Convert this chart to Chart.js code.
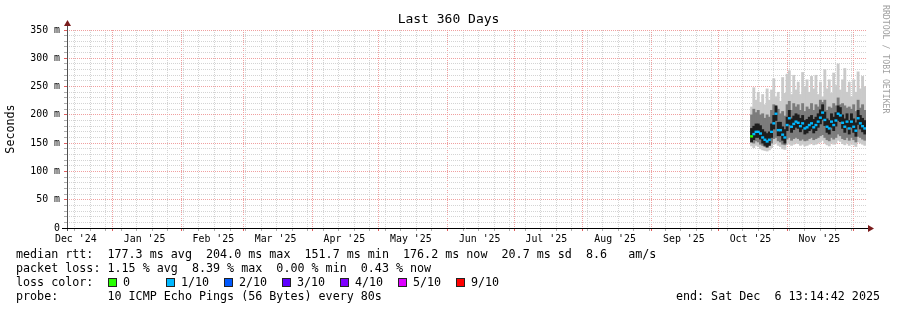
<!DOCTYPE html>
<html>
<head>
<meta charset="utf-8">
<title>Last 360 Days</title>
<script src="https://cdn.jsdelivr.net/npm/chart.js@4.4.1/dist/chart.umd.min.js"></script>
<style>
  body { margin: 0; background: #fff; }
  #wrap { position: relative; width: 897px; height: 310px; overflow: hidden;
          font-family: 'DejaVu Sans Mono', monospace; color: #000; }
  #c { position: absolute; left: 0; top: 0; }
  .txt { position: absolute; white-space: pre; font-size: 11.7px; line-height: 14px; }
  #title { position: absolute; left: 0; width: 897px; top: 11px; text-align: center;
           font-size: 13px; line-height: 16px; white-space: pre; }
  #side { position: absolute; left: 881px; top: 5px; writing-mode: vertical-rl;
          font-size: 8.2px; line-height: 10px; color: #a0a0a0; white-space: pre; }
  .box { position: absolute; width: 9px; height: 9px; box-sizing: border-box; border: 1px solid #222; }
</style>
</head>
<body>
<div id="wrap">
  <canvas id="c" width="897" height="310"></canvas>
  <div id="title">Last 360 Days</div>
  <div id="side">RRDTOOL / TOBI OETIKER</div>
  <div class="txt" style="left:16px;top:247px">median rtt:  177.3 ms avg  204.0 ms max  151.7 ms min  176.2 ms now  20.7 ms sd  8.6   am/s</div>
  <div class="txt" style="left:16px;top:261px">packet loss: 1.15 % avg  8.39 % max  0.00 % min  0.43 % now</div>
  <div class="txt" style="left:16px;top:275px">loss color:</div>
  <div class="txt" style="left:16px;top:289px">probe:       10 ICMP Echo Pings (56 Bytes) every 80s</div>
  <div class="txt" style="right:17px;top:289px">end: Sat Dec  6 13:14:42 2025</div>
</div>
<script>
// --- données ---
const startTime = '2024-12-11T13:14:42Z';   // début de la fenêtre de 360 jours
const spanDays = 360;

const monthLabels = ["Dec '24", "Jan '25", "Feb '25", "Mar '25", "Apr '25", "May '25",
                     "Jun '25", "Jul '25", "Aug '25", "Sep '25", "Oct '25", "Nov '25"];
const labelDates = ['2024-12-15T12:00:00Z', '2025-01-15T12:00:00Z', '2025-02-15T12:00:00Z',
                    '2025-03-15T12:00:00Z', '2025-04-15T12:00:00Z', '2025-05-15T12:00:00Z',
                    '2025-06-15T12:00:00Z', '2025-07-15T12:00:00Z', '2025-08-15T12:00:00Z',
                    '2025-09-15T12:00:00Z', '2025-10-15T12:00:00Z', '2025-11-15T12:00:00Z'];
const monthStarts = ['2025-01-01', '2025-02-01', '2025-03-01', '2025-04-01', '2025-05-01', '2025-06-01',
                     '2025-07-01', '2025-08-01', '2025-09-01', '2025-10-01', '2025-11-01', '2025-12-01'];
const firstSunday = '2024-12-15';

const days = ['2025-10-16', '2025-10-17', '2025-10-18', '2025-10-19', '2025-10-20', '2025-10-21',
              '2025-10-22', '2025-10-23', '2025-10-24', '2025-10-25', '2025-10-26', '2025-10-27',
              '2025-10-28', '2025-10-29', '2025-10-30', '2025-10-31', '2025-11-01', '2025-11-02',
              '2025-11-03', '2025-11-04', '2025-11-05', '2025-11-06', '2025-11-07', '2025-11-08',
              '2025-11-09', '2025-11-10', '2025-11-11', '2025-11-12', '2025-11-13', '2025-11-14',
              '2025-11-15', '2025-11-16', '2025-11-17', '2025-11-18', '2025-11-19', '2025-11-20',
              '2025-11-21', '2025-11-22', '2025-11-23', '2025-11-24', '2025-11-25', '2025-11-26',
              '2025-11-27', '2025-11-28', '2025-11-29', '2025-11-30', '2025-12-01', '2025-12-02',
              '2025-12-03', '2025-12-04', '2025-12-05', '2025-12-06'];

// fumée (ms) : enveloppe extérieure, bande moyenne, noyau sombre
const smokeMax  = [214, 248, 226, 240, 222, 236, 218, 246, 226, 244, 264, 232, 240, 224, 266, 238, 272, 278,
                   236, 270, 244, 258, 236, 275, 250, 262, 240, 268, 246, 270, 236, 258, 232, 280, 246, 262,
                   238, 274, 252, 290, 244, 262, 282, 240, 258, 232, 262, 240, 276, 246, 268, 250];
const smokeMin  = [145, 142, 146, 144, 140, 138, 137, 136, 138, 142, 148, 150, 146, 144, 140, 139, 148, 150,
                   146, 148, 150, 149, 146, 148, 145, 146, 148, 150, 147, 148, 150, 152, 155, 150, 147, 145,
                   150, 148, 150, 155, 153, 149, 147, 150, 146, 150, 147, 144, 152, 150, 148, 146];
const smokeHigh = [200, 210, 204, 208, 200, 202, 194, 200, 196, 208, 218, 214, 210, 202, 206, 198, 218, 224,
                   208, 220, 214, 218, 208, 220, 206, 214, 210, 220, 208, 218, 214, 226, 222, 226, 208, 214,
                   212, 220, 216, 230, 218, 220, 216, 212, 214, 210, 218, 206, 226, 212, 218, 208];
const smokeLow  = [152, 150, 154, 152, 148, 146, 144, 143, 146, 150, 158, 160, 154, 152, 148, 147, 157, 160,
                   155, 158, 160, 158, 155, 157, 154, 155, 158, 160, 156, 158, 160, 163, 165, 160, 156, 154,
                   160, 157, 160, 166, 163, 158, 156, 160, 155, 160, 156, 152, 162, 160, 157, 155];
const coreHigh  = [176, 180, 184, 184, 181, 174, 170, 167, 170, 184, 199, 216, 187, 187, 179, 174, 196, 208,
                   193, 198, 202, 200, 194, 199, 190, 192, 196, 199, 192, 196, 202, 209, 218, 205, 193, 190,
                   202, 196, 204, 216, 213, 200, 193, 202, 190, 202, 193, 186, 208, 199, 194, 190];
const coreLow   = [152, 156, 160, 160, 157, 150, 146, 143, 146, 160, 175, 190, 163, 163, 155, 150, 172, 183,
                   169, 174, 178, 176, 170, 175, 166, 168, 172, 175, 168, 172, 178, 184, 192, 181, 169, 166,
                   178, 172, 180, 190, 188, 176, 169, 178, 166, 178, 169, 162, 183, 175, 170, 166];
const median    = [162, 166, 170, 170, 167, 160, 156, 153, 156, 170, 185, 202, 173, 173, 165, 160, 182, 194,
                   179, 184, 188, 186, 180, 185, 176, 178, 182, 185, 178, 182, 188, 195, 204, 191, 179, 176,
                   188, 182, 190, 202, 199, 186, 179, 188, 176, 188, 179, 172, 194, 185, 180, 176];
// perte par jour, en index de couleur (0 = 0, 1 = 1/10 ...)
const loss      = [0, 1, 1, 1, 1, 1, 1, 1, 1, 1, 1, 1, 1, 1, 1, 1, 1, 1, 1, 1, 1, 1, 1, 1, 1, 1,
                   1, 1, 1, 1, 1, 1, 1, 1, 1, 1, 1, 1, 1, 1, 1, 1, 1, 1, 1, 1, 1, 1, 1, 1, 1, 1];

const lossLabels = ['0', '1/10', '2/10', '3/10', '4/10', '5/10', '9/10'];
const lossColors = ['#26ff00', '#00b8ff', '#0059ff', '#5e00ff', '#7e00ff', '#dd00ff', '#ff0000'];

const yTickValues = [0, 50, 100, 150, 200, 250, 300, 350];

// --- helpers ---
const t0 = Date.parse(startTime);
function dayPos(s) {
    const iso = s.length === 10 ? s + 'T00:00:00Z' : s;
    return (Date.parse(iso) - t0) / 864e5;
}

const RED = '#f0a0a0';
const GREY = '#d4d4d4';

// ticks de l'axe x : semaines (gris), mois (rouge), étiquettes au 15
const tickKind = new Map();
const xTicks = [];
for (let d = dayPos(firstSunday); d <= spanDays; d += 7) {
    xTicks.push({ value: d });
    tickKind.set(d, 'week');
}
monthStarts.forEach(s => {
    const d = dayPos(s);
    xTicks.push({ value: d });
    tickKind.set(d, 'month');
});
const labelOf = new Map();
labelDates.forEach((s, i) => {
    const d = dayPos(s);
    xTicks.push({ value: d });
    tickKind.set(d, 'label');
    labelOf.set(d, monthLabels[i]);
});

// légende des couleurs de perte
const wrap = document.getElementById('wrap');
lossLabels.forEach((lab, i) => {
    const box = document.createElement('div');
    box.className = 'box';
    box.style.left = (108 + i * 58) + 'px';
    box.style.top = '278px';
    box.style.background = lossColors[i];
    wrap.appendChild(box);
    const t = document.createElement('div');
    t.className = 'txt';
    t.style.left = (123 + i * 58) + 'px';
    t.style.top = '275px';
    t.textContent = lab;
    wrap.appendChild(t);
});

function bars(lo, hi) {
    return days.map((d, i) => ({ x: dayPos(d), y: [lo[i], hi[i]] }));
}

// axes avec flèches, façon rrdtool
const axisArrows = {
    id: 'axisArrows',
    afterDraw(chart) {
        const { ctx, chartArea: a } = chart;
        ctx.save();
        ctx.lineWidth = 1;
        ctx.strokeStyle = '#505050';
        ctx.beginPath();
        ctx.moveTo(a.left + 0.5, a.bottom + 3);
        ctx.lineTo(a.left + 0.5, a.top - 5);
        ctx.stroke();
        ctx.strokeStyle = '#000';
        ctx.beginPath();
        ctx.moveTo(a.left - 5, a.bottom + 0.5);
        ctx.lineTo(a.right + 3, a.bottom + 0.5);
        ctx.stroke();
        ctx.fillStyle = '#7a1c1c';
        ctx.beginPath();
        ctx.moveTo(a.left - 3, a.top - 4);
        ctx.lineTo(a.left + 4, a.top - 4);
        ctx.lineTo(a.left + 0.5, a.top - 10);
        ctx.closePath();
        ctx.fill();
        ctx.beginPath();
        ctx.moveTo(a.right + 2, a.bottom - 3);
        ctx.lineTo(a.right + 2, a.bottom + 4);
        ctx.lineTo(a.right + 8, a.bottom + 0.5);
        ctx.closePath();
        ctx.fill();
        ctx.restore();
    }
};

Chart.defaults.font.family = "'DejaVu Sans Mono', monospace";
Chart.defaults.color = '#000';

new Chart(document.getElementById('c'), {
    type: 'bar',
    data: {
        datasets: [
            {
                type: 'line',
                label: 'median',
                data: days.map((d, i) => ({ x: dayPos(d), y: median[i] })),
                showLine: false,
                pointStyle: 'line',
                pointRadius: 1.5,
                pointBorderWidth: 2.4,
                pointBorderColor: loss.map(l => lossColors[l]),
                pointBackgroundColor: loss.map(l => lossColors[l]),
                order: 0
            },
            { label: 'core', data: bars(coreLow, coreHigh), backgroundColor: '#1e1e1e', order: 1 },
            { label: 'mid', data: bars(smokeLow, smokeHigh), backgroundColor: '#7c7c7c', order: 2 },
            { label: 'outer', data: bars(smokeMin, smokeMax), backgroundColor: '#cacaca', order: 3 }
        ]
    },
    options: {
        responsive: false,
        animation: false,
        devicePixelRatio: 1,
        events: [],
        layout: { padding: { left: 0, right: 31, top: 30, bottom: 0 } },
        datasets: {
            bar: { grouped: false, barPercentage: 1, categoryPercentage: 1, borderWidth: 0 }
        },
        plugins: { legend: { display: false }, tooltip: { enabled: false }, title: { display: false } },
        scales: {
            x: {
                type: 'linear',
                min: 0,
                max: spanDays,
                offset: false,
                z: 1,
                afterBuildTicks(s) { s.ticks = xTicks.map(t => ({ value: t.value })); },
                afterFit(s) { s.height = 82; },
                border: { display: false, dash: [1, 1] },
                grid: {
                    offset: false,
                    tickLength: 3,
                    color: c => {
                        const k = tickKind.get(c.tick && c.tick.value);
                        return k === 'month' ? RED : k === 'label' ? 'rgba(0,0,0,0)' : GREY;
                    },
                    tickColor: c => {
                        const k = tickKind.get(c.tick && c.tick.value);
                        return k === 'month' ? '#e06060' : k === 'label' ? 'rgba(0,0,0,0)' : '#b0b0b0';
                    }
                },
                ticks: {
                    autoSkip: false,
                    maxRotation: 0,
                    minRotation: 0,
                    padding: 2,
                    font: { size: 9.9 },
                    callback: v => labelOf.get(v) || ''
                }
            },
            y: {
                min: 0,
                max: 350,
                z: 1,
                afterFit(s) { s.width = 67; },
                border: { display: false, dash: [1, 1] },
                grid: {
                    tickLength: 3,
                    color: c => {
                        const v = c.tick && c.tick.value;
                        if (v === 0) return 'rgba(0,0,0,0)';
                        return yTickValues.includes(v) ? RED : GREY;
                    },
                    tickColor: c => yTickValues.includes(c.tick && c.tick.value) ? '#e06060' : '#b0b0b0'
                },
                ticks: {
                    stepSize: 10,
                    autoSkip: false,
                    padding: 4,
                    font: { size: 9.9 },
                    callback: v => yTickValues.includes(v) ? (v === 0 ? '0' : v + ' m') : ''
                },
                title: {
                    display: true,
                    text: 'Seconds',
                    font: { size: 11.7 },
                    padding: { top: 4, bottom: 0 }
                }
            }
        }
    },
    plugins: [axisArrows]
});
</script>
</body>
</html>
